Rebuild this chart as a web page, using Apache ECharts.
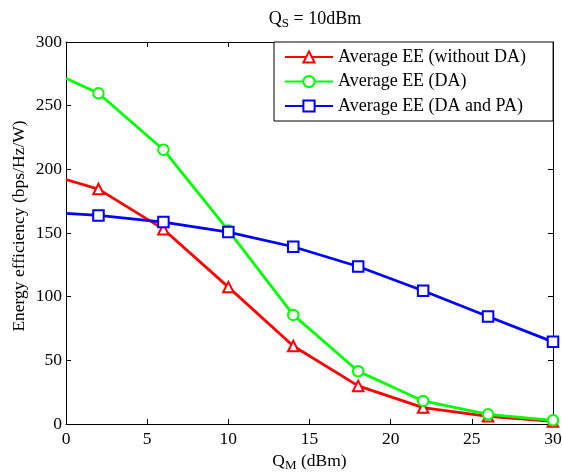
<!DOCTYPE html>
<html>
<head>
<meta charset="utf-8">
<script src="https://cdn.jsdelivr.net/npm/echarts@6/dist/echarts.min.js"></script>
<style>
  html, body { margin: 0; padding: 0; background: #fff; }
  #chart { width: 562px; height: 475px; }
</style>
</head>
<body>
<div id="chart"></div>
<script>
// Transmit power Q_M (dBm)
const qm = [0, 2, 6, 10, 14, 18, 22, 26, 30];
// Average energy efficiency (bps/Hz/W)
const eeWithoutDA = [192, 184.5, 153, 107.5, 61.3, 29.9, 12.9, 6, 2];
const eeDA = [271.5, 259.7, 215.4, 152, 85.7, 41.4, 18.1, 7.6, 2.9];
const eeDAPA = [165.4, 163.8, 158.6, 150.7, 139.2, 123.7, 104.6, 84.4, 64.5];
const seriesNames = ['Average EE (without DA)', 'Average EE (DA)', 'Average EE (DA and PA)'];

const font = 'Liberation Serif';

// The first sample (Q_M = 0) is drawn without a marker
function pairs(values) {
  return qm.map((x, i) => i === 0 ? { value: [x, values[i]], symbol: 'none' } : [x, values[i]]);
}

function lineSeries(name, values, color, symbol) {
  return {
    name: name,
    type: 'line',
    data: pairs(values),
    symbol: symbol,
    symbolSize: 10.5,
    showAllSymbol: true,
    lineStyle: { color: color, width: 2.8 },
    itemStyle: { color: color, borderColor: color, borderWidth: 2 },
    emphasis: { disabled: true },
    animation: false
  };
}

const axisLine = { show: true, onZero: false, lineStyle: { color: '#000', width: 1 } };
const axisTick = { show: true, inside: true, length: 5, lineStyle: { color: '#000' } };
const axisLabel = { color: '#000', fontFamily: font, fontSize: 17.5 };
const subStyle = { fontFamily: font, fontSize: 13, color: '#000', verticalAlign: 'bottom', padding: [8, 0, 0, 0] };

const chart = echarts.init(document.getElementById('chart'), null, { renderer: 'canvas' });
chart.setOption({
  backgroundColor: '#fff',
  animation: false,
  title: {
    text: 'Q{sub|S} = 10dBm',
    left: 310,
    textAlign: 'center',
    top: 4,
    textStyle: {
      color: '#000', fontFamily: font, fontSize: 18, fontWeight: 'normal',
      rich: { sub: subStyle }
    }
  },
  legend: {
    data: seriesNames,
    orient: 'vertical',
    left: 274,
    top: 42,
    padding: [6, 27, 6, 10],
    itemGap: 6.5,
    itemWidth: 48,
    itemHeight: 14,
    borderColor: '#000',
    borderWidth: 1,
    backgroundColor: '#fff',
    textStyle: { color: '#000', fontFamily: font, fontSize: 18 },
    selectedMode: false
  },
  grid: { left: 66, right: 9, top: 42, bottom: 51, containLabel: false, outerBoundsMode: 'none' },
  xAxis: [
    {
      type: 'value', min: 0, max: 30, interval: 5,
      name: 'Q{sub|M} (dBm)', nameLocation: 'middle', nameGap: 27,
      nameTextStyle: {
        color: '#000', fontFamily: font, fontSize: 17.5,
        rich: { sub: subStyle }
      },
      axisLine: axisLine, axisTick: axisTick,
      axisLabel: Object.assign({ margin: 6 }, axisLabel),
      splitLine: { show: false }
    },
    {
      type: 'value', min: 0, max: 30, interval: 5, position: 'top',
      axisLine: axisLine, axisTick: axisTick, axisLabel: { show: false }, splitLine: { show: false }
    }
  ],
  yAxis: [
    {
      type: 'value', min: 0, max: 300, interval: 50,
      name: 'Energy efficiency (bps/Hz/W)', nameLocation: 'middle', nameGap: 38,
      nameMoveOverlap: false,
      nameTextStyle: { color: '#000', fontFamily: font, fontSize: 17.5, padding: [0, 0, 0, 14] },
      axisLine: axisLine, axisTick: axisTick,
      axisLabel: Object.assign({ margin: 4 }, axisLabel),
      splitLine: { show: false }
    },
    {
      type: 'value', min: 0, max: 300, interval: 50, position: 'right',
      axisLine: axisLine, axisTick: axisTick, axisLabel: { show: false }, splitLine: { show: false }
    }
  ],
  series: [
    lineSeries(seriesNames[0], eeWithoutDA, '#ff0000', 'emptyTriangle'),
    lineSeries(seriesNames[1], eeDA, '#00ff00', 'emptyCircle'),
    lineSeries(seriesNames[2], eeDAPA, '#0000ff', 'emptyRect'),
    // binds the top and right frame axes so they are drawn with ticks
    { type: 'line', xAxisIndex: 1, yAxisIndex: 1, data: [], silent: true }
  ]
});
</script>
</body>
</html>
